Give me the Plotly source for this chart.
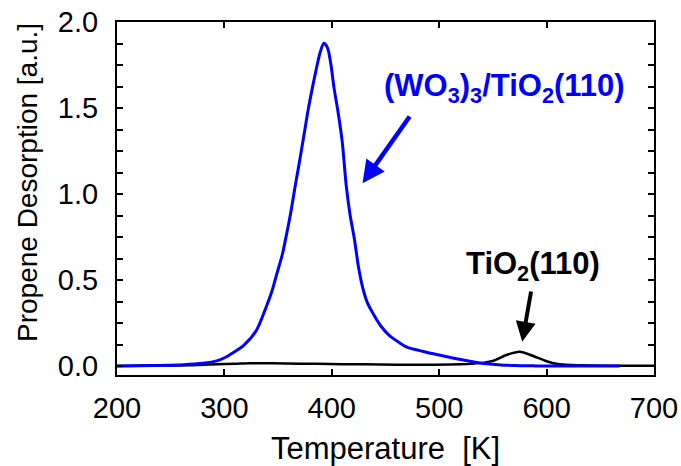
import plotly.graph_objects as go

# Data
blue_T = [200, 230, 262, 280, 293, 302, 310, 318, 330, 339, 344, 349, 354, 358, 362, 366,
          370, 374, 378, 382, 386, 389, 392.6, 396, 399, 402, 406, 409.6, 413.6, 417,
          421, 425, 429, 433, 438, 446, 454, 462, 470, 485, 500, 520, 538, 555, 570,
          590, 620, 668]
blue_v = [0.0, 0.003, 0.008, 0.016, 0.03, 0.054, 0.085, 0.12, 0.21, 0.345, 0.43, 0.54,
          0.65, 0.77, 0.9, 1.05, 1.19, 1.34, 1.49, 1.62, 1.74, 1.82, 1.876, 1.85, 1.76,
          1.62, 1.47, 1.31, 1.04, 0.88, 0.74, 0.57, 0.45, 0.37, 0.31, 0.23, 0.175, 0.14,
          0.11, 0.085, 0.064, 0.038, 0.018, 0.008, 0.003, 0.001, 0.0, 0.0]

black_T = [200, 240, 270, 293, 310, 324, 345, 370, 386, 410, 430, 460, 490, 520, 538,
           550, 562.5, 575, 587, 600, 612, 631, 660, 700]
black_v = [0.0, 0.002, 0.005, 0.01, 0.013, 0.016, 0.016, 0.014, 0.013, 0.011, 0.01,
           0.008, 0.008, 0.01, 0.017, 0.03, 0.064, 0.083, 0.06, 0.028, 0.01, 0.004,
           0.002, 0.002]

x_ticks = [200, 300, 400, 500, 600, 700]
y_ticks = [0.0, 0.5, 1.0, 1.5, 2.0]
y_tick_labels = ["0.0", "0.5", "1.0", "1.5", "2.0"]

FONT = "Liberation Sans, Arial, sans-serif"

fig = go.Figure()
fig.add_trace(go.Scatter(x=black_T, y=black_v, mode="lines",
                         line=dict(color="black", width=2.5, shape="spline", smoothing=0.8),
                         showlegend=False))
fig.add_trace(go.Scatter(x=blue_T, y=blue_v, mode="lines",
                         line=dict(color="#0000ff", width=3, shape="spline", smoothing=0.8),
                         showlegend=False))

# Text labels
fig.add_annotation(x=561, y=1.616, xref="x", yref="y", showarrow=False,
                   text="<b>(WO<sub>3</sub>)<sub>3</sub>/TiO<sub>2</sub>(110)</b>",
                   font=dict(family=FONT, size=31, color="#0000ff"),
                   xanchor="center", yanchor="middle")
fig.add_annotation(x=587.4, y=0.581, xref="x", yref="y", showarrow=False,
                   text="<b>TiO<sub>2</sub>(110)</b>",
                   font=dict(family=FONT, size=31, color="black"),
                   xanchor="center", yanchor="middle")

# Y-axis title (annotation, positioned like the reference)
fig.add_annotation(x=-0.1657, y=0.544, xref="paper", yref="paper",
                   showarrow=False, text="Propene Desorption [a.u.]", textangle=-90,
                   font=dict(family=FONT, size=28, color="black"),
                   xanchor="center", yanchor="middle")

# Arrows
fig.add_annotation(x=428.6, y=1.062, ax=473.5, ay=1.459, xref="x", yref="y",
                   axref="x", ayref="y", text="", showarrow=True,
                   arrowhead=2, arrowsize=1.0, arrowwidth=4.5, arrowcolor="#0000ff",
                   standoff=0, startstandoff=0)
fig.add_annotation(x=577.3, y=0.141, ax=585.8, ay=0.442, xref="x", yref="y",
                   axref="x", ayref="y", text="", showarrow=True,
                   arrowhead=2, arrowsize=1.0, arrowwidth=4, arrowcolor="black",
                   standoff=0, startstandoff=0)

fig.update_layout(
    width=681, height=466,
    margin=dict(l=117, r=27, t=22, b=91, autoexpand=False),
    paper_bgcolor="white", plot_bgcolor="white",
    font=dict(family=FONT, color="black"),
)
fig.update_xaxes(
    range=[200, 700], tickvals=x_ticks, ticks="inside", ticklen=6, tickwidth=1.5,
    tickcolor="black", showline=True, linecolor="black", linewidth=2, mirror="ticks",
    showgrid=False, zeroline=False, tickfont=dict(size=29), automargin=False,
    ticklabelstandoff=6,
    title=dict(text="Temperature  [K]", font=dict(size=31), standoff=20),
)
fig.update_yaxes(
    range=[-0.052, 2.0], tickvals=y_ticks, ticktext=y_tick_labels, ticks="inside",
    ticklen=6, tickwidth=1.5, tickcolor="black", showline=True, linecolor="black",
    linewidth=2, mirror="ticks", showgrid=False, zeroline=False, automargin=False,
    tickfont=dict(size=29), ticklabelstandoff=11,
    minor=dict(dtick=0.125, tick0=0, ticks="inside", ticklen=6, tickwidth=1.5,
               tickcolor="black"),
)

fig.write_html("out.html", config={"displayModeBar": False},
               post_script="document.body.style.margin='0';document.body.style.padding='0';")
